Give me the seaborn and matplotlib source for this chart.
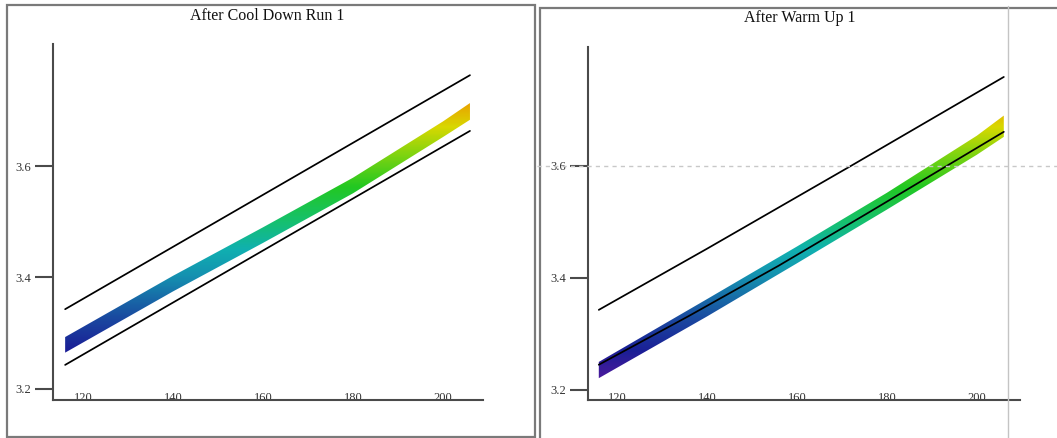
import numpy as np
import pandas as pd
import matplotlib
matplotlib.use("Agg")
import matplotlib.pyplot as plt
import seaborn as sns
from matplotlib.colors import LinearSegmentedColormap, Normalize
from matplotlib.patches import Rectangle
from matplotlib.lines import Line2D

# ---------------- data ----------------
titles = ["After Cool Down Run 1", "After Warm Up 1"]
x_ticks = [120, 140, 160, 180, 200]
y_ticks = [3.2, 3.4, 3.6]
y_tick_labels = ["3.2", "3.4", "3.6"]

# limit lines (x, y)
cool_upper_x = [116, 206]
cool_upper_y = [3.343, 3.763]
cool_lower_x = [116, 206]
cool_lower_y = [3.243, 3.663]

warm_upper_x = [116, 140, 172, 206]
warm_upper_y = [3.343, 3.452, 3.600, 3.759]
warm_lower_x = [116, 136, 156, 176, 196, 206]
warm_lower_y = [3.245, 3.332, 3.422, 3.517, 3.613, 3.661]

# measured band (scatter cloud) edges
cool_band_x = [116, 140, 160, 180, 200, 206]
cool_band_lo = [3.265, 3.375, 3.462, 3.551, 3.652, 3.683]
cool_band_hi = [3.293, 3.403, 3.490, 3.579, 3.680, 3.713]

warm_band_x = [116, 140, 160, 180, 200, 206]
warm_band_lo = [3.221, 3.331, 3.426, 3.522, 3.620, 3.652]
warm_band_hi = [3.250, 3.362, 3.456, 3.552, 3.654, 3.690]

# ---------------- style ----------------
sns.set_style("white")
plt.rcParams["font.family"] = ["Liberation Serif", "DejaVu Serif"]

cmap = LinearSegmentedColormap.from_list(
    "band",
    [(0.00, "#4a1a9c"), (0.10, "#1a1f96"), (0.22, "#1a4aa0"),
     (0.37, "#1590b0"), (0.47, "#10b0b0"), (0.57, "#15c070"),
     (0.70, "#22c822"), (0.82, "#80d410"), (0.92, "#d8d800"),
     (1.00, "#e8a800")])
norm = Normalize(3.22, 3.71)

W, H = 1057, 438
fig = plt.figure(figsize=(W / 100, H / 100), dpi=100)
fig.patch.set_facecolor("white")

# panel frames
frame_col = "#7a7a7a"
fig.add_artist(Rectangle((7 / W, 1 - 437 / H), 528 / W, 432 / H,
                         transform=fig.transFigure, fill=False,
                         edgecolor=frame_col, lw=1.6))
fig.add_artist(Rectangle((540 / W, -0.05), 600 / W, 1.05 - 8 / H,
                         transform=fig.transFigure, fill=False,
                         edgecolor=frame_col, lw=1.6))

ax1 = fig.add_axes([53 / W, 38 / H, 430 / W, 356 / H])
ax2 = fig.add_axes([588 / W, 38 / H, 432 / W, 353 / H])

panels = [
    (ax1, (113.3, 208.9), (3.18, 3.819), cool_band_x, cool_band_lo, cool_band_hi,
     (cool_upper_x, cool_upper_y), (cool_lower_x, cool_lower_y)),
    (ax2, (113.6, 209.6), (3.182, 3.8125), warm_band_x, warm_band_lo, warm_band_hi,
     (warm_upper_x, warm_upper_y), (warm_lower_x, warm_lower_y)),
]

spine_col = "#4a4a4a"
for ax, xl, yl, bx, blo, bhi, up, lo in panels:
    ax.set_facecolor("none")
    ax.set_xlim(*xl)
    ax.set_ylim(*yl)
    # band polygon filled with gradient coloured by y value
    px = list(bx) + list(bx)[::-1]
    py = list(blo) + list(bhi)[::-1]
    poly = ax.fill(px, py, facecolor="none", edgecolor="none")[0]
    grad = np.linspace(yl[0], yl[1], 400).reshape(-1, 1)
    im = ax.imshow(grad, cmap=cmap, norm=norm, aspect="auto", origin="lower",
                   extent=[xl[0], xl[1], yl[0], yl[1]], interpolation="bilinear",
                   zorder=1)
    im.set_clip_path(poly)
    # limit lines
    for lx, ly in (up, lo):
        df = pd.DataFrame({"x": lx, "y": ly})
        sns.lineplot(data=df, x="x", y="y", ax=ax, color="black", lw=1.25,
                     legend=False, zorder=3)
    ax.set_xlabel("")
    ax.set_ylabel("")
    for s in ("top", "right"):
        ax.spines[s].set_visible(False)
    for s in ("left", "bottom"):
        ax.spines[s].set_color(spine_col)
        ax.spines[s].set_linewidth(1.5)
    ax.set_yticks(y_ticks)
    ax.set_yticklabels(y_tick_labels)
    ax.set_xticks(x_ticks)
    ax.set_xticklabels([str(v) for v in x_ticks])
    ax.tick_params(axis="y", length=13, width=1.5, color=spine_col, pad=3,
                   labelsize=9, labelcolor="#333333", left=True)
    ax.tick_params(axis="x", length=0, pad=-6, labelsize=9,
                   labelcolor="#333333", bottom=True)
    ax.grid(False)

fig.text(267 / W, 1 - 16 / H, titles[0], ha="center", va="center",
         fontsize=11.5, color="#111111")
fig.text(800 / W, 1 - 18 / H, titles[1], ha="center", va="center",
         fontsize=11.5, color="#111111")

# cursor crosshair in the right panel
fig.add_artist(Line2D([1008 / W, 1008 / W], [0, 1 - 6 / H], transform=fig.transFigure,
                      color="#c4c4c4", lw=1.0))
fig.add_artist(Line2D([537 / W, 1.0], [1 - 166 / H, 1 - 166 / H], transform=fig.transFigure,
                      color="#c8c8c8", lw=1.0, ls=(0, (3, 3))))

fig.savefig("out.png", dpi=100, facecolor="white")
